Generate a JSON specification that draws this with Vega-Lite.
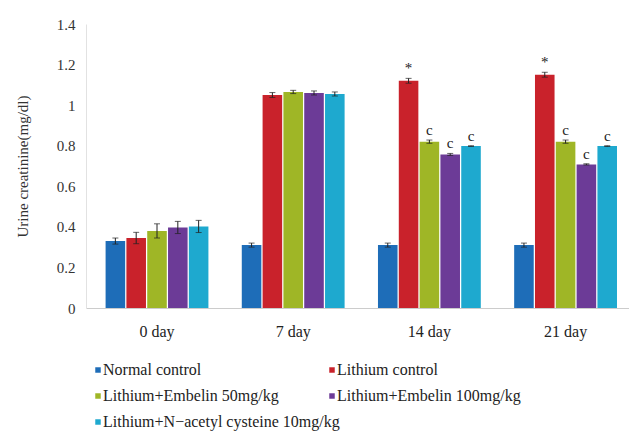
{
  "$schema": "https://vega.github.io/schema/vega-lite/v6.json",
  "width": 543,
  "height": 284,
  "autosize": {"type": "none"},
  "padding": {"left": 86, "top": 24, "right": 0, "bottom": 126},
  "background": "white",
  "config": {
    "view": {"stroke": null},
    "font": "Liberation Serif",
    "legend": {"labelFont": "Liberation Serif", "labelLimit": 400}
  },
  "data": {
    "values": [
      {"day": "0 day", "group": "Normal control", "value": 0.33, "lo": 0.315, "hi": 0.345, "sig": ""},
      {"day": "0 day", "group": "Lithium control", "value": 0.345, "lo": 0.317, "hi": 0.373, "sig": ""},
      {"day": "0 day", "group": "Lithium+Embelin 50mg/kg", "value": 0.38, "lo": 0.345, "hi": 0.415, "sig": ""},
      {"day": "0 day", "group": "Lithium+Embelin 100mg/kg", "value": 0.397, "lo": 0.367, "hi": 0.427, "sig": ""},
      {"day": "0 day", "group": "Lithium+N−acetyl cysteine 10mg/kg", "value": 0.402, "lo": 0.372, "hi": 0.432, "sig": ""},
      {"day": "7 day", "group": "Normal control", "value": 0.31, "lo": 0.3, "hi": 0.32, "sig": ""},
      {"day": "7 day", "group": "Lithium control", "value": 1.05, "lo": 1.038, "hi": 1.062, "sig": ""},
      {"day": "7 day", "group": "Lithium+Embelin 50mg/kg", "value": 1.065, "lo": 1.057, "hi": 1.073, "sig": ""},
      {"day": "7 day", "group": "Lithium+Embelin 100mg/kg", "value": 1.06, "lo": 1.05, "hi": 1.07, "sig": ""},
      {"day": "7 day", "group": "Lithium+N−acetyl cysteine 10mg/kg", "value": 1.055, "lo": 1.045, "hi": 1.065, "sig": ""},
      {"day": "14 day", "group": "Normal control", "value": 0.31, "lo": 0.3, "hi": 0.32, "sig": ""},
      {"day": "14 day", "group": "Lithium control", "value": 1.12, "lo": 1.108, "hi": 1.132, "sig": "*"},
      {"day": "14 day", "group": "Lithium+Embelin 50mg/kg", "value": 0.82, "lo": 0.812, "hi": 0.828, "sig": "c"},
      {"day": "14 day", "group": "Lithium+Embelin 100mg/kg", "value": 0.757, "lo": 0.752, "hi": 0.762, "sig": "c"},
      {"day": "14 day", "group": "Lithium+N−acetyl cysteine 10mg/kg", "value": 0.798, "lo": 0.796, "hi": 0.8, "sig": "c"},
      {"day": "21 day", "group": "Normal control", "value": 0.31, "lo": 0.3, "hi": 0.32, "sig": ""},
      {"day": "21 day", "group": "Lithium control", "value": 1.15, "lo": 1.138, "hi": 1.162, "sig": "*"},
      {"day": "21 day", "group": "Lithium+Embelin 50mg/kg", "value": 0.82, "lo": 0.812, "hi": 0.828, "sig": "c"},
      {"day": "21 day", "group": "Lithium+Embelin 100mg/kg", "value": 0.708, "lo": 0.705, "hi": 0.711, "sig": "c"},
      {"day": "21 day", "group": "Lithium+N−acetyl cysteine 10mg/kg", "value": 0.798, "lo": 0.796, "hi": 0.8, "sig": "c"}
    ]
  },
  "encoding": {
    "x": {
      "field": "day",
      "type": "nominal",
      "sort": ["0 day", "7 day", "14 day", "21 day"],
      "title": null,
      "scale": {"paddingInner": 0.245, "paddingOuter": 0.116, "align": 0.62},
      "axis": {
        "labelAngle": 0,
        "domainColor": "#cccccc",
        "tickSize": 0,
        "labelPadding": 15,
        "labelFontSize": 16,
        "labelColor": "#222222",
        "labelFont": "Liberation Serif"
      }
    },
    "xOffset": {
      "field": "group",
      "type": "nominal",
      "scale": {
        "domain": ["Normal control", "Lithium control", "Lithium+Embelin 50mg/kg", "Lithium+Embelin 100mg/kg", "Lithium+N−acetyl cysteine 10mg/kg"],
        "paddingInner": 0.06
      }
    }
  },
  "layer": [
    {
      "transform": [{"filter": {"field": "group", "oneOf": ["Normal control", "Lithium+Embelin 50mg/kg", "Lithium+N−acetyl cysteine 10mg/kg"]}}],
      "mark": {"type": "bar"},
      "encoding": {
        "y": {
          "field": "value",
          "type": "quantitative",
          "title": "Urine creatinine(mg/dl)",
          "scale": {"domain": [0, 1.4]},
          "axis": {
            "values": [0, 0.2, 0.4, 0.6, 0.8, 1, 1.2, 1.4],
            "format": "~g",
            "grid": false,
            "domainColor": "#e2e2e2",
            "tickSize": 0,
            "labelPadding": 11,
            "labelFontSize": 15,
            "labelColor": "#333333",
            "labelFont": "Liberation Serif",
            "titleFont": "Liberation Serif",
            "titleFontSize": 15,
            "titleFontWeight": "normal",
            "titleColor": "#333333",
            "titleX": -64,
            "titleY": 142,
            "titleBaseline": "middle"
          }
        },
        "color": {
          "field": "group",
          "type": "nominal",
          "scale": {
            "domain": ["Normal control", "Lithium+Embelin 50mg/kg", "Lithium+N−acetyl cysteine 10mg/kg"],
            "range": ["#1e6db8", "#9fb626", "#1ea9cf"]
          },
          "legend": {
            "orient": "none",
            "legendX": 4,
            "legendY": 338,
            "title": null,
            "direction": "vertical",
            "symbolType": "square",
            "symbolSize": 30,
            "symbolStrokeWidth": 0,
            "labelFontSize": 16,
            "labelFont": "Liberation Serif",
            "labelLimit": 400,
            "labelColor": "#222222",
            "labelOffset": -3,
            "rowPadding": 10
          }
        }
      }
    },
    {
      "transform": [{"filter": {"field": "group", "oneOf": ["Lithium control", "Lithium+Embelin 100mg/kg"]}}],
      "mark": {"type": "bar"},
      "encoding": {
        "y": {"field": "value", "type": "quantitative"},
        "color": {
          "field": "group",
          "type": "nominal",
          "scale": {
            "domain": ["Lithium control", "Lithium+Embelin 100mg/kg"],
            "range": ["#c9222b", "#6c3b97"]
          },
          "legend": {
            "orient": "none",
            "legendX": 238,
            "legendY": 338,
            "title": null,
            "direction": "vertical",
            "symbolType": "square",
            "symbolSize": 30,
            "symbolStrokeWidth": 0,
            "labelFontSize": 16,
            "labelFont": "Liberation Serif",
            "labelLimit": 400,
            "labelColor": "#222222",
            "labelOffset": -3,
            "rowPadding": 10
          }
        }
      }
    },
    {
      "mark": {"type": "rule", "color": "#222222", "strokeWidth": 1},
      "encoding": {
        "y": {"field": "lo", "type": "quantitative"},
        "y2": {"field": "hi"}
      }
    },
    {
      "mark": {"type": "tick", "color": "#222222", "size": 6, "thickness": 1},
      "encoding": {"y": {"field": "hi", "type": "quantitative"}}
    },
    {
      "mark": {"type": "tick", "color": "#222222", "size": 6, "thickness": 1},
      "encoding": {"y": {"field": "lo", "type": "quantitative"}}
    },
    {
      "mark": {"type": "text", "baseline": "alphabetic", "dy": -5, "fontSize": 15, "font": "Liberation Serif", "color": "#222222"},
      "encoding": {
        "y": {"field": "hi", "type": "quantitative"},
        "text": {"field": "sig"}
      }
    }
  ],
  "resolve": {"scale": {"color": "independent"}}
}
